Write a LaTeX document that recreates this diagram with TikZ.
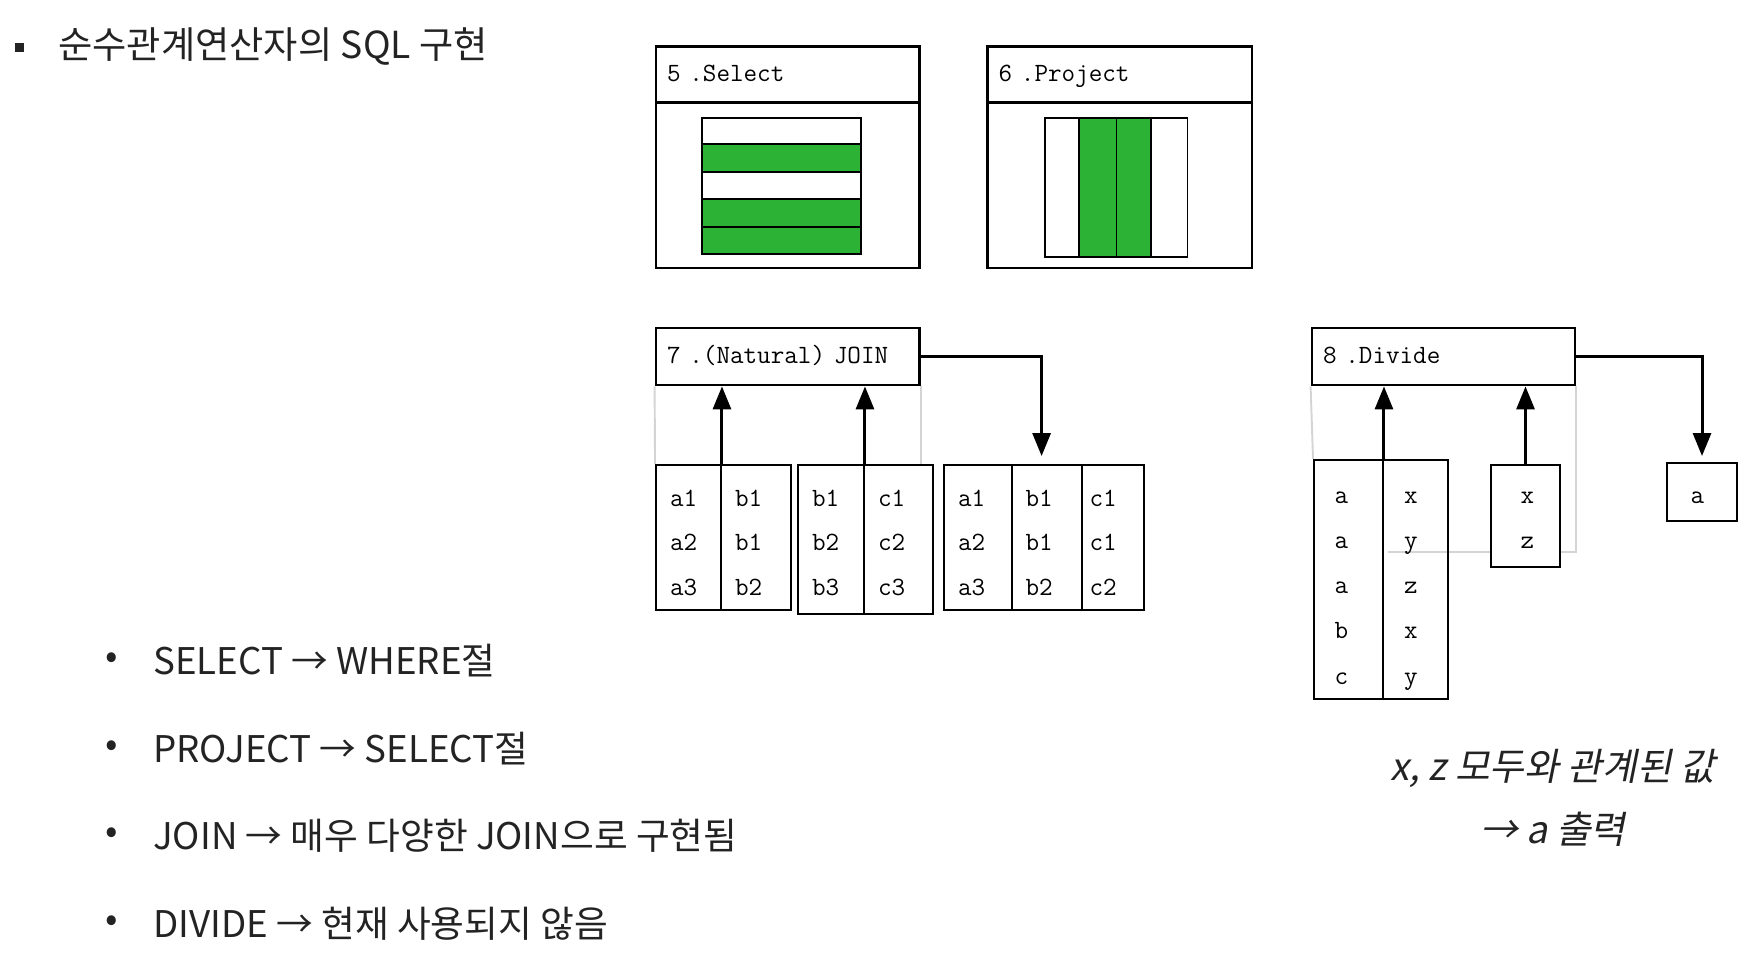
\documentclass[tikz,border=0pt]{standalone}
\usepackage{fontspec}
\usetikzlibrary{arrows.meta}
\usetikzlibrary{backgrounds}
\newfontfamily\krfont{Noto Sans CJK KR}
\newfontfamily\krslant[FakeSlant=0.2]{Noto Sans CJK KR}
\definecolor{selgreen}{RGB}{44,178,52}
\definecolor{faintgray}{RGB}{212,212,212}
\definecolor{textgray}{RGB}{35,35,35}
\newlength\pxu
\setlength\pxu{0.02cm}

\begin{document}
\begin{tikzpicture}[x=0.02cm, y=-0.02cm]
  % estilos
  \tikzstyle{titulo}=[font=\krfont\fontsize{21.2}{24}\selectfont, text=textgray, anchor=west, inner sep=0pt]
  \tikzstyle{punto}=[font=\krfont\fontsize{20.9}{24}\selectfont, text=textgray, inner sep=0pt]
  \tikzstyle{item}=[font=\krfont\fontsize{20.9}{24}\selectfont, text=textgray, anchor=west, inner sep=0pt]
  \tikzstyle{nota}=[font=\krslant\fontsize{21.5}{36}\selectfont, text=textgray, align=center, inner sep=0pt]
  % cabecera de cada operacion
  \tikzstyle{cabecera}=[
      draw,
      line width=1.6pt,
      inner xsep=11\pxu,
      inner ysep=0pt,
      minimum height=56\pxu,
      text height=11pt,
      text depth=3.5pt,
      align=left,
      font=\ttfamily\fontsize{15}{17}\selectfont
  ]
  \tikzstyle{cuerpo}=[draw, line width=1.4pt, inner sep=0pt]
  \tikzstyle{fila}=[draw, line width=1.1pt, inner sep=0pt]
  % columna de una tabla: ancho de la caja / ancho del texto
  \tikzset{columna/.style args={#1/#2}{
      draw,
      line width=1.1pt,
      inner sep=0pt,
      align=left,
      minimum width=#1\pxu,
      text width=#2\pxu,
      font=\ttfamily\fontsize{15}{25.4}\selectfont
  }}
  \tikzstyle{flecha}=[line width=1.7pt, -{Triangle[length=0.46cm, width=0.36cm]}]
  \tikzstyle{tenue}=[draw=faintgray, line width=1.1pt]

  \useasboundingbox (0,0) rectangle (1758,967);

  % titulo y lista
  \node[fill=textgray, minimum size=9\pxu, inner sep=0pt] (sq) at (19.5,47.5) {};
  \node[titulo] (title) at (58,47) {순수관계연산자의 SQL 구현};
  \node[punto] (p1) at (112,661) {•};
  \node[item] (i1) at (153,661) {SELECT → WHERE절};
  \node[punto] (p2) at (112,749) {•};
  \node[item] (i2) at (153,749) {PROJECT → SELECT절};
  \node[punto] (p3) at (112,836) {•};
  \node[item] (i3) at (153,836) {JOIN → 매우 다양한 JOIN으로 구현됨};
  \node[punto] (p4) at (112,924) {•};
  \node[item] (i4) at (153,924) {DIVIDE → 현재 사용되지 않음};

  % 5. Select
  \node[cabecera, text width=241.5\pxu] (select) at (787.75,74.5) {5 .Select};
  \node[cuerpo, minimum width=263.5\pxu, minimum height=166\pxu] (selbody) at (787.75,185) {};
  \node[fila, minimum width=159\pxu, minimum height=26\pxu] (s1) at (781.5,131) {};
  \node[fila, minimum width=159\pxu, minimum height=28\pxu, fill=selgreen] (s2) at (781.5,158) {};
  \node[fila, minimum width=159\pxu, minimum height=27\pxu] (s3) at (781.5,185.5) {};
  \node[fila, minimum width=159\pxu, minimum height=28\pxu, fill=selgreen] (s4) at (781.5,213) {};
  \node[fila, minimum width=159\pxu, minimum height=27\pxu, fill=selgreen] (s5) at (781.5,240.5) {};

  % 6. Project
  \node[cabecera, text width=242.4\pxu] (project) at (1119.8,74.5) {6 .Project};
  \node[cuerpo, minimum width=264.4\pxu, minimum height=166\pxu] (probody) at (1119.8,185) {};
  \node[fila, minimum width=34\pxu, minimum height=139\pxu] (c1) at (1062,187.5) {};
  \node[fila, minimum width=37.5\pxu, minimum height=139\pxu, fill=selgreen] (c2) at (1097.75,187.5) {};
  \node[fila, minimum width=34.5\pxu, minimum height=139\pxu, fill=selgreen] (c3) at (1133.75,187.5) {};
  \node[fila, minimum width=36.5\pxu, minimum height=139\pxu] (c4) at (1169.25,187.5) {};

  % 7. (Natural) JOIN
  \node[cabecera, text width=241.5\pxu, minimum height=57\pxu] (join) at (787.75,356.5) {7 .(Natural) JOIN};
  \tikzstyle{tresfilas}=[minimum height=145\pxu, text height=18\pxu, text depth=81\pxu]
  \node[columna=65/37, tresfilas] (t1a) at (688.5,537.5) {a1\\a2\\a3};
  \node[columna=70/42, tresfilas] (t1b) at (756,537.5) {b1\\b1\\b2};
  \node[columna=66/38, tresfilas, minimum height=149\pxu, text depth=85\pxu] (t2a) at (831,539.5) {b1\\b2\\b3};
  \node[columna=68.6/40.6, tresfilas, minimum height=149\pxu, text depth=85\pxu] (t2b) at (898.3,539.5) {c1\\c2\\c3};
  \node[columna=67.6/39.6, tresfilas] (t3a) at (977.8,537.5) {a1\\a2\\a3};
  \node[columna=70/42, tresfilas] (t3b) at (1046.6,537.5) {b1\\b1\\b2};
  \node[columna=62.4/46.4, tresfilas] (t3c) at (1112.8,537.5) {c1\\c1\\c2};

  \draw[flecha] (t1a.north east) -- (t1a.north east |- join.south);
  \draw[flecha] (t2a.north east) -- (t2a.north east |- join.south);
  \draw[flecha, shorten >=8\pxu] (join.east) -| ([xshift=-5\pxu]t3b.north);

  % 8. Divide
  \tikzstyle{cincofilas}=[minimum height=239\pxu, text height=18\pxu, text depth=170\pxu, font=\ttfamily\fontsize{15}{25.7}\selectfont]
  \node[cabecera, text width=241\pxu, minimum height=57\pxu] (divide) at (1443.5,356.5) {8 .Divide};
  \node[columna=69/27.6, cincofilas] (dA1) at (1348.5,579.5) {a\\a\\a\\b\\c};
  \node[columna=65/23, cincofilas] (dA2) at (1415.5,579.5) {x\\y\\z\\x\\y};
  \node[columna=69/9.6, minimum height=102\pxu, text height=18\pxu, text depth=43\pxu, fill=white] (dB) at (1525.5,516) {x\\z};
  \node[columna=70/22.6, minimum height=58\pxu, text height=30\pxu, text depth=7\pxu] (res) at (1702,492) {a};
  \coordinate (dcorner) at (1388,552);

  \draw[flecha] (dA1.north east) -- (dA1.north east |- divide.south);
  \draw[flecha] (dB.north) -- (dB.north |- divide.south);
  \draw[flecha, shorten >=6\pxu] (divide.east) -| (res.north);

  % lineas grises de fondo
  \begin{scope}[on background layer]
    \draw[tenue] (join.south west) -- (t1a.north west);
    \draw[tenue] (join.south east) -- (join.south east |- t1a.north);
    \draw[tenue] (divide.south west) -- (dA1.north west);
    \draw[tenue] (divide.south east) |- (dcorner);
  \end{scope}

  % nota
  \node[nota] (note) at (1553,798) {x, z 모두와 관계된 값\\→ a 출력};
\end{tikzpicture}
\end{document}
